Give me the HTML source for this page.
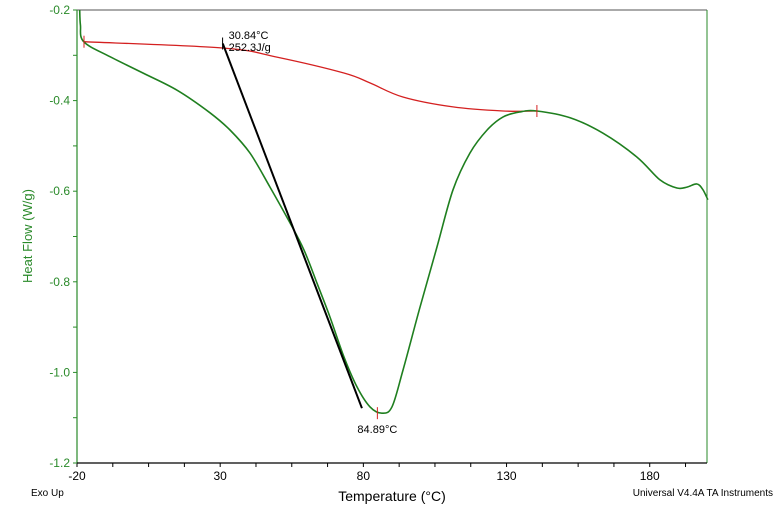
<!DOCTYPE html>
<html><head><meta charset="utf-8"><style>
body{margin:0;background:#fff;width:774px;height:512px;overflow:hidden}
svg text{font-family:"Liberation Sans",sans-serif}
</style></head><body>
<svg id="chart" width="774" height="512" xmlns="http://www.w3.org/2000/svg"></svg>
<script>
const xTicks=[-20,30,80,130,180];
const yTicks=[-0.2,-0.4,-0.6,-0.8,-1.0,-1.2];
const yLabels=["-0.2","-0.4","-0.6","-0.8","-1.0","-1.2"];
const greenT=[-19.06,-18.8,-17.66,-8.48,3.29,14.92,26.44,33.43,40.41,47.4,54.38,59.27,63.81,68.35,73.24,77.78,82.3,86.5,90,93.84,99.78,105.7,111.3,117.2,123.2,128.8,134.7,140.6,152.2,163.7,175.6,183.6,189.5,193,196.5,198.6,200.3];
const greenV=[-0.2,-0.233,-0.27,-0.303,-0.34,-0.377,-0.427,-0.465,-0.516,-0.591,-0.67,-0.73,-0.803,-0.878,-0.966,-1.032,-1.076,-1.09,-1.076,-0.995,-0.856,-0.723,-0.597,-0.516,-0.465,-0.436,-0.425,-0.423,-0.438,-0.472,-0.525,-0.575,-0.593,-0.591,-0.584,-0.597,-0.619];
const baseT=[-17.56,31.3,49.8,73.2,82.3,93.8,111.3,128.8,140.6];
const baseV=[-0.27,-0.284,-0.304,-0.339,-0.361,-0.392,-0.414,-0.423,-0.423];
const tangT=[30.9,79.5];
const tangV=[-0.274,-1.079];
const onsetT=30.84, onsetLabel=["30.84°C","252.3J/g"], peakT=84.89, peakV=-1.09;
const x0=77,x1=707,yTop=10,yBot=463;
const X=t=>x0+(t+20)*(x1-x0)/220;
const Y=v=>yTop+(-0.2-v)*(yBot-yTop)/1.0;
const svg=document.getElementById('chart');
const NS="http://www.w3.org/2000/svg";
function el(tag,attrs,txt){const e=document.createElementNS(NS,tag);for(const k in attrs)e.setAttribute(k,attrs[k]);if(txt!==undefined)e.textContent=txt;svg.appendChild(e);return e;}
function smooth(T,V){const p=T.map((t,i)=>[X(t),Y(V[i])]);let d='M'+p[0][0].toFixed(1)+','+p[0][1].toFixed(1);
for(let i=0;i<p.length-1;i++){const a=p[Math.max(0,i-1)],b=p[i],c=p[i+1],e2=p[Math.min(p.length-1,i+2)];
const c1=[b[0]+(c[0]-a[0])/6,b[1]+(c[1]-a[1])/6],c2=[c[0]-(e2[0]-b[0])/6,c[1]-(e2[1]-b[1])/6];
d+=' C'+c1[0].toFixed(1)+','+c1[1].toFixed(1)+' '+c2[0].toFixed(1)+','+c2[1].toFixed(1)+' '+c[0].toFixed(1)+','+c[1].toFixed(1);}return d;}
let e;
e=el('line',{x1:x0,y1:yTop,x2:x1,y2:yTop,stroke:'#555','stroke-width':1});

e=el('line',{x1:x1,y1:yTop,x2:x1,y2:yBot,stroke:'#2a8a2a','stroke-width':1});

e=el('line',{x1:x0,y1:yTop,x2:x0,y2:yBot,stroke:'#2a8a2a','stroke-width':1.2});

e=el('line',{x1:x0,y1:yBot,x2:x1,y2:yBot,stroke:'#000','stroke-width':1.2});

for(let t=-20;t<=200;t+=12.5){e=el('line',{x1:X(t),y1:yBot,x2:X(t),y2:yBot+4,stroke:'#000'});
}
xTicks.forEach(t=>{e=el('text',{x:X(t),y:yBot+17,'font-size':12,'text-anchor':'middle',fill:'#000'},String(t));
});
for(let v=-0.2;v>=-1.2001;v-=0.1){e=el('line',{x1:x0-4,y1:Y(v),x2:x0,y2:Y(v),stroke:'#2a8a2a'});
}
yTicks.forEach((v,i)=>{e=el('text',{x:x0-7,y:Y(v)+4,'font-size':12,'text-anchor':'end',fill:'#2a8a2a'},yLabels[i]);
});
e=el('text',{x:0,y:0,'font-size':13,'text-anchor':'middle',fill:'#2a8a2a',transform:'translate(32,236) rotate(-90)'},'Heat Flow (W/g)');

e=el('text',{x:392,y:501,'font-size':14,'text-anchor':'middle',fill:'#000'},'Temperature (°C)');

e=el('text',{x:31,y:496,'font-size':10,fill:'#000'},'Exo Up');

e=el('text',{x:773,y:496,'font-size':10,'text-anchor':'end',fill:'#000'},'Universal V4.4A TA Instruments');

e=el('path',{d:smooth(baseT,baseV),fill:'none',stroke:'#d42020','stroke-width':1.3});

e=el('path',{d:smooth(greenT,greenV),fill:'none',stroke:'#1f7f1f','stroke-width':1.6,'stroke-linejoin':'round'});

e=el('line',{x1:X(tangT[0]),y1:Y(tangV[0]),x2:X(tangT[1]),y2:Y(tangV[1]),stroke:'#000','stroke-width':2});

[[baseT[0],baseV[0]],[baseT[baseT.length-1],baseV[baseV.length-1]],[peakT,peakV]].forEach(p=>{
e=el('line',{x1:X(p[0]),y1:Y(p[1])-6,x2:X(p[0]),y2:Y(p[1])+6,stroke:'#d42020','stroke-width':1});
});
e=el('line',{x1:X(onsetT),y1:Y(tangV[0])-6,x2:X(onsetT),y2:Y(tangV[0])+6,stroke:'#000','stroke-width':1});

e=el('text',{x:X(onsetT)+6,y:39,'font-size':11,fill:'#000'},onsetLabel[0]);

e=el('text',{x:X(onsetT)+6,y:51,'font-size':11,fill:'#000'},onsetLabel[1]);

e=el('text',{x:X(peakT),y:433,'font-size':11,'text-anchor':'middle',fill:'#000'},peakT.toFixed(2)+'°C');

</script>
</body></html>
